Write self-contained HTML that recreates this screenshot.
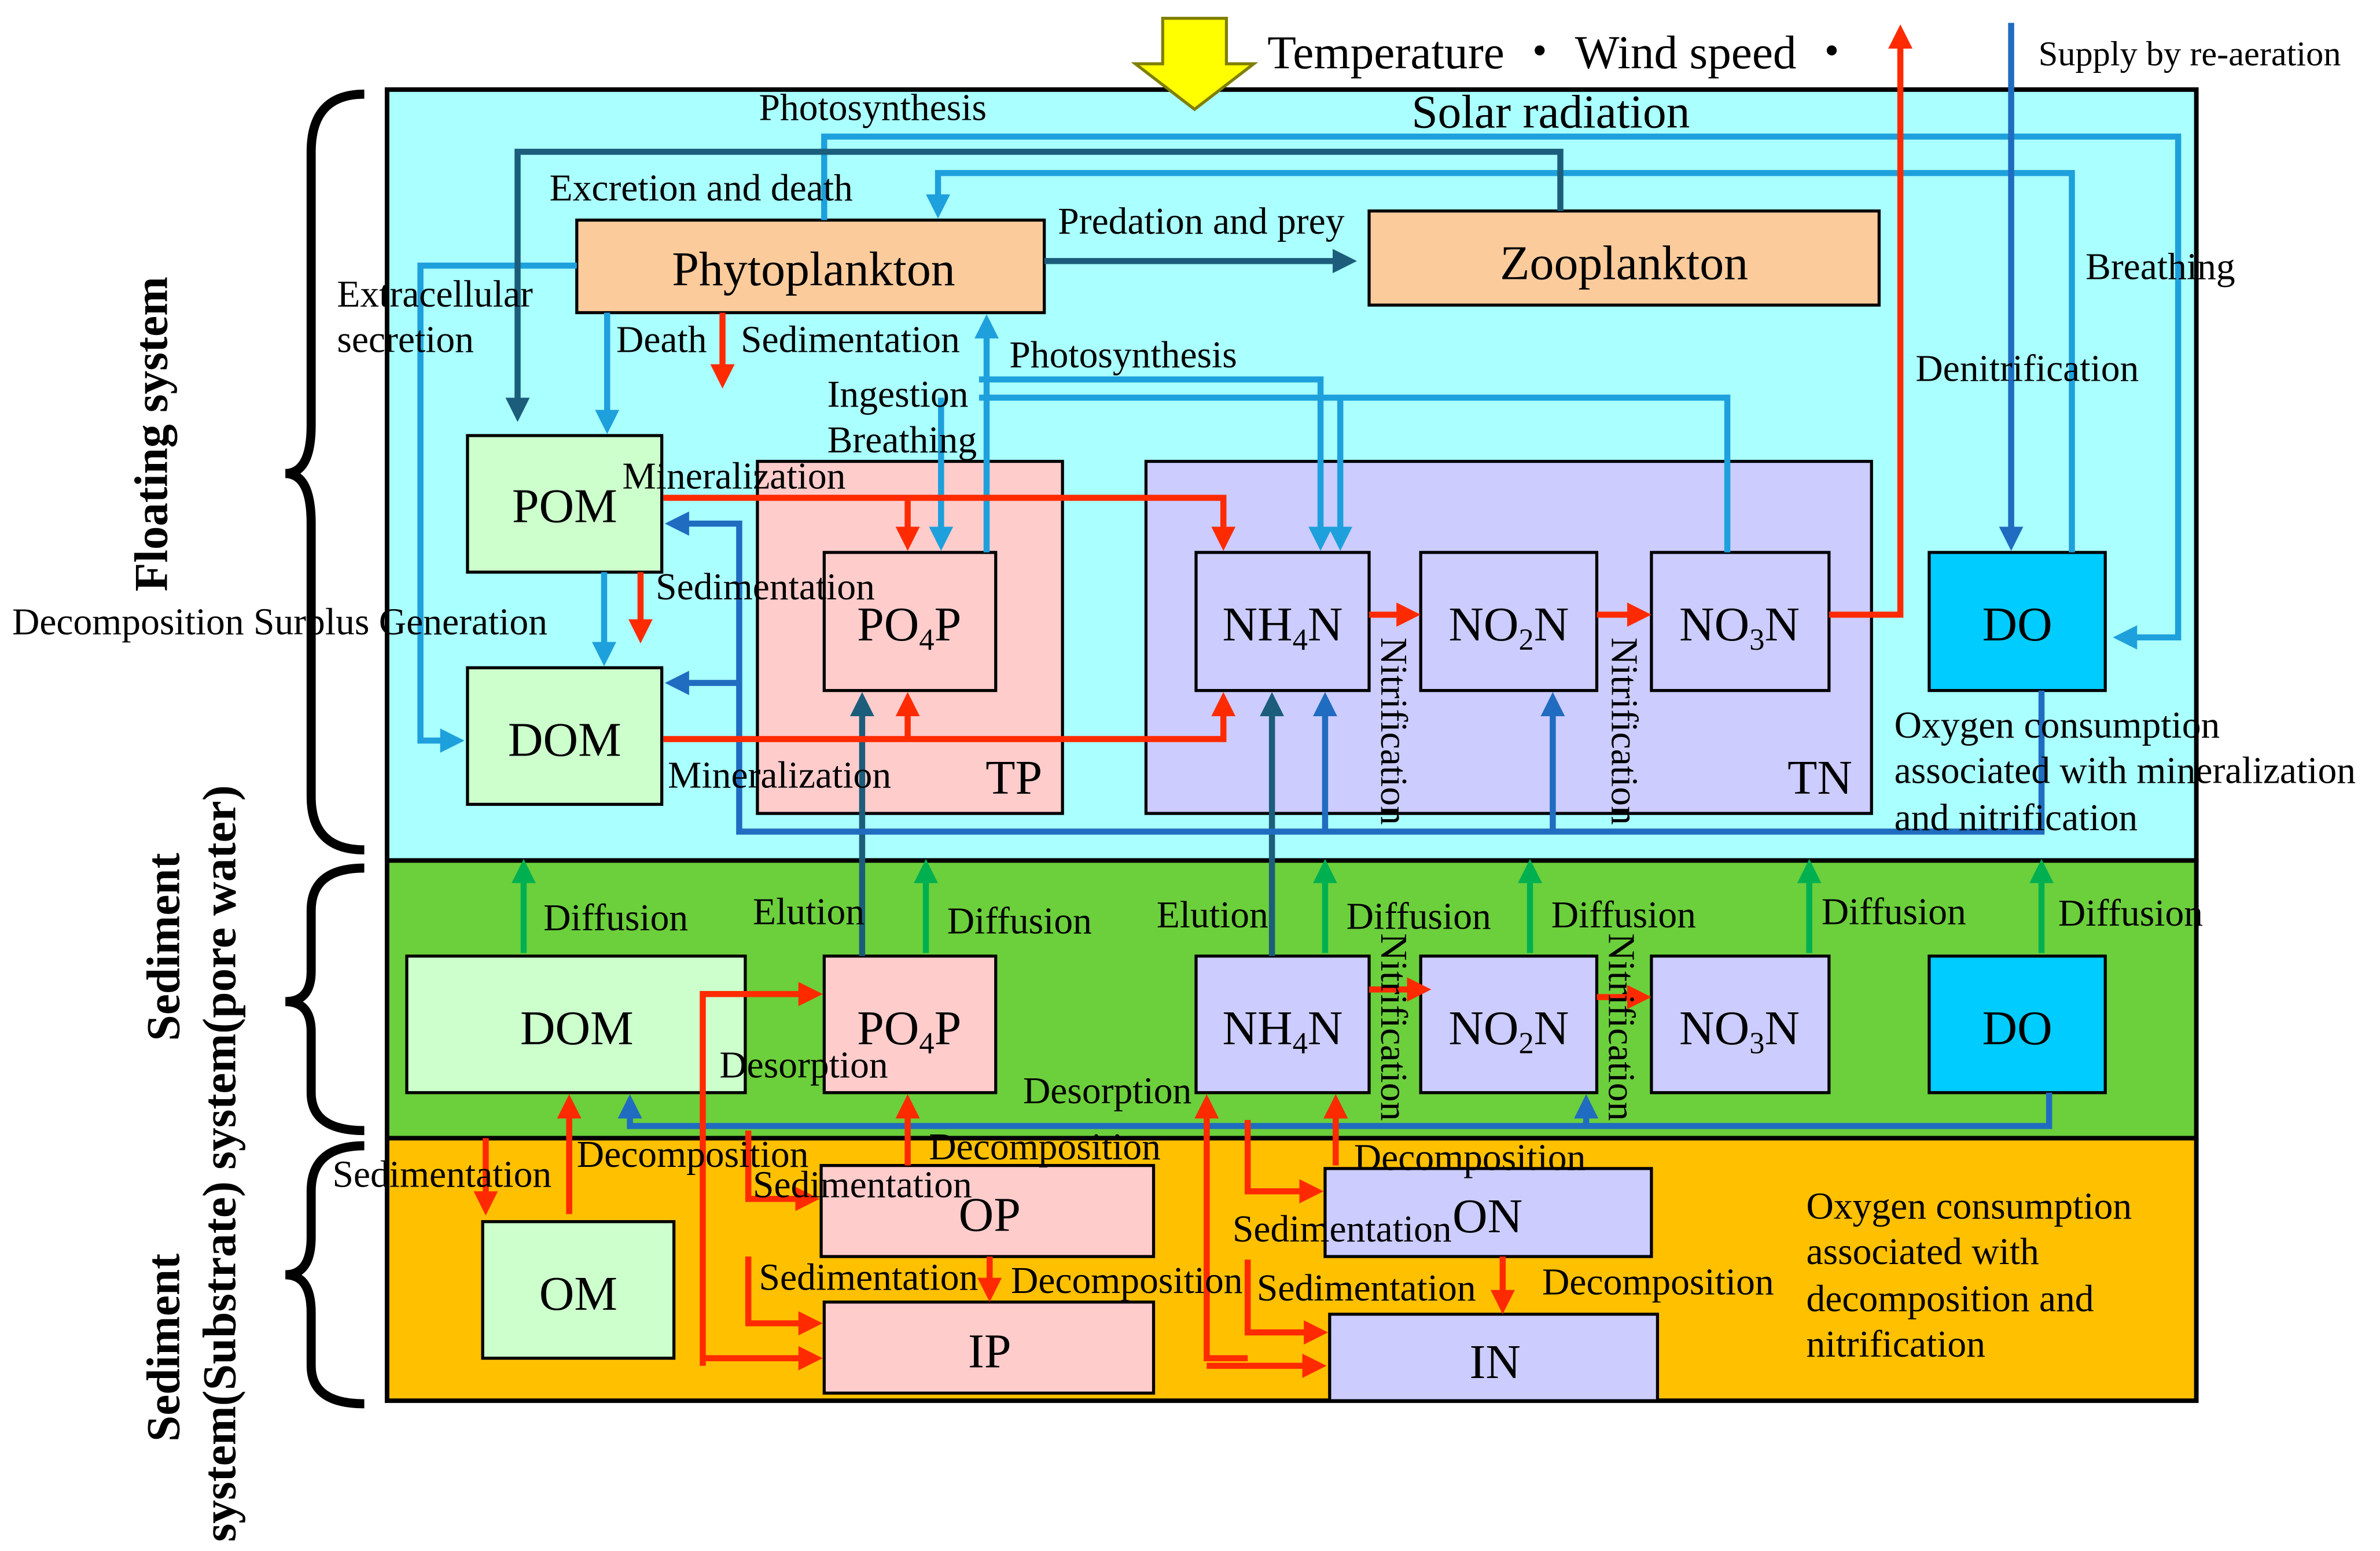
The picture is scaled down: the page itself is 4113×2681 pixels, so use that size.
<!DOCTYPE html>
<html><head><meta charset="utf-8"><style>html,body{margin:0;padding:0;background:#fff}svg{display:block}</style></head>
<body>
<svg width="4113" height="2681" viewBox="0 0 1568 1022" xmlns="http://www.w3.org/2000/svg" font-family="Liberation Serif, serif">
<defs>
<marker id="r" markerWidth="4" markerHeight="4" refX="2.5" refY="2" orient="auto" markerUnits="strokeWidth"><path d="M0,0L4,2L0,4z" fill="#ff2a00"/></marker>
<marker id="b" markerWidth="4" markerHeight="4" refX="2.5" refY="2" orient="auto" markerUnits="strokeWidth"><path d="M0,0L4,2L0,4z" fill="#1ea0dc"/></marker>
<marker id="d" markerWidth="4" markerHeight="4" refX="2.5" refY="2" orient="auto" markerUnits="strokeWidth"><path d="M0,0L4,2L0,4z" fill="#1b5d7a"/></marker>
<marker id="m" markerWidth="4" markerHeight="4" refX="2.5" refY="2" orient="auto" markerUnits="strokeWidth"><path d="M0,0L4,2L0,4z" fill="#1f6cc0"/></marker>
<marker id="g" markerWidth="4" markerHeight="4" refX="2.5" refY="2" orient="auto" markerUnits="strokeWidth"><path d="M0,0L4,2L0,4z" fill="#00b050"/></marker>
</defs>
<rect x="255" y="59" width="1192" height="508" fill="#aaffff" stroke="#000" stroke-width="3"/>
<rect x="255" y="567" width="1192" height="183" fill="#6ccf3c" stroke="#000" stroke-width="3"/>
<rect x="255" y="750" width="1192" height="173" fill="#ffc000" stroke="#000" stroke-width="3"/>
<rect x="499" y="304" width="201" height="232" fill="#ffcccc" stroke="#000" stroke-width="2"/>
<rect x="755" y="304" width="478" height="232" fill="#ccccff" stroke="#000" stroke-width="2"/>
<g stroke="#000" stroke-width="2">
<rect x="380" y="145" width="308" height="61" fill="#fbcb9c"/>
<rect x="902" y="139" width="336" height="62" fill="#fbcb9c"/>
<rect x="308" y="287" width="128" height="90" fill="#ccffcc"/>
<rect x="308" y="440" width="128" height="90" fill="#ccffcc"/>
<rect x="543" y="364" width="113" height="91" fill="#ffcccc"/>
<rect x="788" y="364" width="114" height="91" fill="#ccccff"/>
<rect x="936" y="364" width="116" height="91" fill="#ccccff"/>
<rect x="1088" y="364" width="117" height="91" fill="#ccccff"/>
<rect x="1271" y="364" width="116" height="91" fill="#00ccff"/>
<rect x="268" y="630" width="223" height="90" fill="#ccffcc"/>
<rect x="543" y="630" width="113" height="90" fill="#ffcccc"/>
<rect x="788" y="630" width="114" height="90" fill="#ccccff"/>
<rect x="936" y="630" width="116" height="90" fill="#ccccff"/>
<rect x="1088" y="630" width="117" height="90" fill="#ccccff"/>
<rect x="1271" y="630" width="116" height="90" fill="#00ccff"/>
<rect x="318" y="805" width="126" height="90" fill="#ccffcc"/>
<rect x="541" y="768" width="219" height="60" fill="#ffcccc"/>
<rect x="543" y="858" width="217" height="60" fill="#ffcccc"/>
<rect x="873" y="770" width="215" height="58" fill="#ccccff"/>
<rect x="876" y="866" width="216" height="57" fill="#ccccff"/>
</g>
<g fill="none" stroke="#1ea0dc" stroke-width="4">
<polyline points="543,145 543,90 1435,90 1435,420 1398,420" marker-end="url(#b)"/>
<polyline points="1365,364 1365,114 618,114 618,138" marker-end="url(#b)"/>
<polyline points="380,175 277,175 277,488 300,488" marker-end="url(#b)"/>
<polyline points="400,206 400,280" marker-end="url(#b)"/>
<polyline points="398,377 398,433" marker-end="url(#b)"/>
<polyline points="620,262 620,357" marker-end="url(#b)"/>
<polyline points="650,364 650,213" marker-end="url(#b)"/>
<polyline points="645,250 870,250 870,357" marker-end="url(#b)"/>
<polyline points="645,262 1138,262 1138,364"/>
<polyline points="883,262 883,357" marker-end="url(#b)"/>
</g>
<g fill="none" stroke="#1b5d7a" stroke-width="4">
<polyline points="1028,139 1028,100 341,100 341,272" marker-end="url(#d)"/>
<polyline points="688,172 888,172" marker-end="url(#d)"/>
<polyline points="568,630 568,462" marker-end="url(#d)"/>
<polyline points="838,630 838,462" marker-end="url(#d)"/>
</g>
<g fill="none" stroke="#1f6cc0" stroke-width="4">
<polyline points="1325,15 1325,357" marker-end="url(#m)"/>
<polyline points="1345,455 1345,548 487,548 487,345 444,345" marker-end="url(#m)"/>
<polyline points="487,450 444,450" marker-end="url(#m)"/>
<polyline points="873,548 873,462" marker-end="url(#m)"/>
<polyline points="1023,548 1023,462" marker-end="url(#m)"/>
<polyline points="1350,720 1350,742 415,742 415,727" marker-end="url(#m)"/>
<polyline points="880,742 880,727" marker-end="url(#m)"/>
<polyline points="1045,742 1045,727" marker-end="url(#m)"/>
</g>
<g fill="none" stroke="#00b050" stroke-width="4">
<polyline points="345,628 345,572" marker-end="url(#g)"/>
<polyline points="610,628 610,572" marker-end="url(#g)"/>
<polyline points="873,628 873,572" marker-end="url(#g)"/>
<polyline points="1008,628 1008,572" marker-end="url(#g)"/>
<polyline points="1192,628 1192,572" marker-end="url(#g)"/>
<polyline points="1345,628 1345,572" marker-end="url(#g)"/>
</g>
<g fill="none" stroke="#ff2a00" stroke-width="4">
<polyline points="437,328 806,328 806,357" marker-end="url(#r)"/>
<polyline points="598,328 598,357" marker-end="url(#r)"/>
<polyline points="437,487 806,487 806,462" marker-end="url(#r)"/>
<polyline points="598,487 598,462" marker-end="url(#r)"/>
<polyline points="476,206 476,250" marker-end="url(#r)"/>
<polyline points="422,377 422,418" marker-end="url(#r)"/>
<polyline points="902,405 930,405" marker-end="url(#r)"/>
<polyline points="1052,405 1082,405" marker-end="url(#r)"/>
<polyline points="1205,405 1252,405 1252,22" marker-end="url(#r)"/>
<polyline points="902,652 937,652" marker-end="url(#r)"/>
<polyline points="1052,657 1082,657" marker-end="url(#r)"/>
<polyline points="463,900 463,655 536,655" marker-end="url(#r)"/>
<polyline points="463,895 536,895" marker-end="url(#r)"/>
<polyline points="822,895 795,895 795,727" marker-end="url(#r)"/>
<polyline points="795,900 868,900" marker-end="url(#r)"/>
<polyline points="375,800 375,727" marker-end="url(#r)"/>
<polyline points="598,768 598,727" marker-end="url(#r)"/>
<polyline points="880,768 880,727" marker-end="url(#r)"/>
<polyline points="320,750 320,795" marker-end="url(#r)"/>
<polyline points="493,745 493,790 534,790" marker-end="url(#r)"/>
<polyline points="493,828 493,872 536,872" marker-end="url(#r)"/>
<polyline points="822,738 822,785 866,785" marker-end="url(#r)"/>
<polyline points="822,830 822,878 869,878" marker-end="url(#r)"/>
<polyline points="652,828 652,852" marker-end="url(#r)"/>
<polyline points="990,828 990,860" marker-end="url(#r)"/>
</g>
<path d="M766,12 L808,12 L808,42 L826,42 L787,72 L748,42 L766,42 Z" fill="#ffff00" stroke="#7f7f00" stroke-width="2"/>
<g fill="none" stroke="#000" stroke-width="6">
<path d="M240,62 Q205,62 205,100 L205,280 Q205,312 188,312 Q205,312 205,345 L205,525 Q205,560 240,560"/>
<path d="M240,572 Q205,572 205,600 L205,640 Q205,660 188,660 Q205,660 205,680 L205,720 Q205,745 240,745"/>
<path d="M240,755 Q205,755 205,785 L205,815 Q205,840 188,840 Q205,840 205,865 L205,900 Q205,925 240,925"/>
</g>
<g font-size="32" text-anchor="middle" fill="#000">
<text x="536" y="188">Phytoplankton</text>
<text x="1070" y="184">Zooplankton</text>
<text x="372" y="344">POM</text>
<text x="372" y="498">DOM</text>
<text x="599" y="422">PO<tspan font-size="20" dy="6">4</tspan><tspan dy="-6">P</tspan></text>
<text x="845" y="422">NH<tspan font-size="20" dy="6">4</tspan><tspan dy="-6">N</tspan></text>
<text x="994" y="422">NO<tspan font-size="20" dy="6">2</tspan><tspan dy="-6">N</tspan></text>
<text x="1146" y="422">NO<tspan font-size="20" dy="6">3</tspan><tspan dy="-6">N</tspan></text>
<text x="1329" y="422">DO</text>
<text x="380" y="688">DOM</text>
<text x="599" y="688">PO<tspan font-size="20" dy="6">4</tspan><tspan dy="-6">P</tspan></text>
<text x="845" y="688">NH<tspan font-size="20" dy="6">4</tspan><tspan dy="-6">N</tspan></text>
<text x="994" y="688">NO<tspan font-size="20" dy="6">2</tspan><tspan dy="-6">N</tspan></text>
<text x="1146" y="688">NO<tspan font-size="20" dy="6">3</tspan><tspan dy="-6">N</tspan></text>
<text x="1329" y="688">DO</text>
<text x="381" y="863">OM</text>
<text x="652" y="811">OP</text>
<text x="652" y="901">IP</text>
<text x="980" y="812">ON</text>
<text x="985" y="908">IN</text>
<text x="668" y="523">TP</text>
<text x="1199" y="523">TN</text>
</g>
<g font-size="25" fill="#000">
<text x="835" y="45" font-size="31">Temperature ・ Wind speed ・</text>
<text x="930" y="84" font-size="31">Solar radiation</text>
<text x="1343" y="43" font-size="23">Supply by re-aeration</text>
<text x="500" y="79">Photosynthesis</text>
<text x="362" y="132">Excretion and death</text>
<text x="697" y="154">Predation and prey</text>
<text x="1374" y="184">Breathing</text>
<text x="222" y="202">Extracellular</text>
<text x="222" y="232">secretion</text>
<text x="406" y="232">Death</text>
<text x="488" y="232">Sedimentation</text>
<text x="665" y="242">Photosynthesis</text>
<text x="1262" y="251">Denitrification</text>
<text x="545" y="268">Ingestion</text>
<text x="545" y="298">Breathing</text>
<text x="410" y="322">Mineralization</text>
<text x="432" y="395">Sedimentation</text>
<text x="8" y="418">Decomposition Surplus Generation</text>
<text x="440" y="519">Mineralization</text>
<text x="1248" y="486">Oxygen consumption</text>
<text x="1248" y="516">associated with mineralization</text>
<text x="1248" y="547">and nitrification</text>
<text x="358" y="613">Diffusion</text>
<text x="496" y="609">Elution</text>
<text x="624" y="615">Diffusion</text>
<text x="762" y="611">Elution</text>
<text x="887" y="612">Diffusion</text>
<text x="1022" y="611">Diffusion</text>
<text x="1200" y="609">Diffusion</text>
<text x="1356" y="610">Diffusion</text>
<text x="474" y="710">Desorption</text>
<text x="674" y="727">Desorption</text>
<text x="380" y="769">Decomposition</text>
<text x="612" y="764">Decomposition</text>
<text x="219" y="782">Sedimentation</text>
<text x="496" y="789">Sedimentation</text>
<text x="892" y="771">Decomposition</text>
<text x="812" y="818">Sedimentation</text>
<text x="500" y="850">Sedimentation</text>
<text x="666" y="852">Decomposition</text>
<text x="828" y="857">Sedimentation</text>
<text x="1016" y="853">Decomposition</text>
<text x="1190" y="803">Oxygen consumption</text>
<text x="1190" y="833">associated with</text>
<text x="1190" y="864">decomposition and</text>
<text x="1190" y="894">nitrification</text>
<text transform="translate(910,420) rotate(90)">Nitrification</text>
<text transform="translate(1062,420) rotate(90)">Nitrification</text>
<text transform="translate(910,615) rotate(90)">Nitrification</text>
<text transform="translate(1060,615) rotate(90)">Nitrification</text>
</g>
<g font-size="31" font-weight="bold" text-anchor="middle" fill="#000">
<text transform="translate(110,286) rotate(-90)">Floating system</text>
<text transform="translate(118,624) rotate(-90)">Sediment</text>
<text transform="translate(155,644) rotate(-90)">system(pore water)</text>
<text transform="translate(118,888) rotate(-90)">Sediment</text>
<text transform="translate(155,1016) rotate(-90)" text-anchor="start">system(Substrate)</text>
</g>
</svg>
</body></html>
